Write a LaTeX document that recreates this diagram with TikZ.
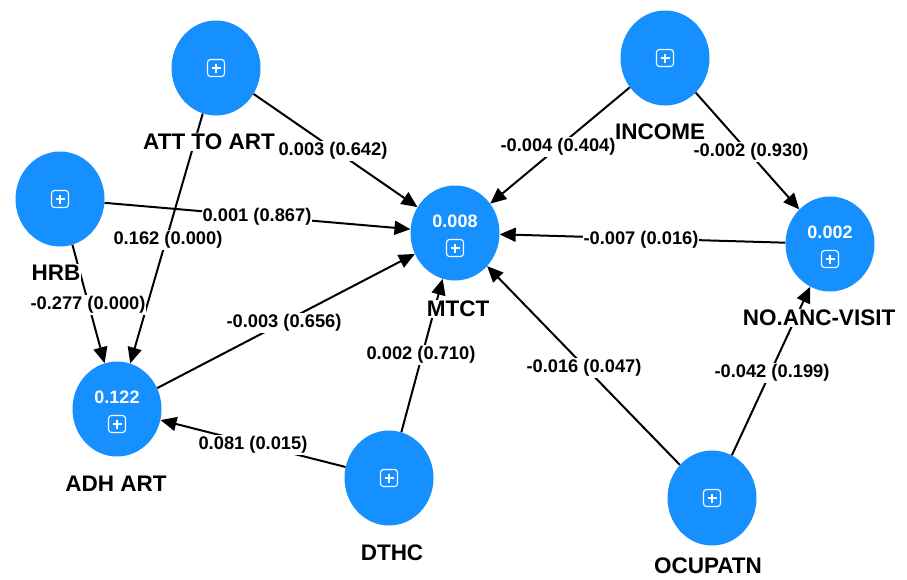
\documentclass[tikz,border=0pt]{standalone}
\usepackage{fontspec}
\setmainfont{Liberation Sans}
\usetikzlibrary{shapes.geometric,arrows.meta}
\definecolor{nodeblue}{RGB}{22,143,255}
\begin{document}
\begin{tikzpicture}[x=1pt,y=-1pt,
  lv/.style={ellipse,fill=nodeblue,minimum width=89pt,minimum height=95pt,inner sep=0pt},
  valtxt/.style={text=white,font=\fontsize{18}{20}\selectfont\bfseries,inner sep=0pt},
  iconbox/.style={draw=white,line width=1.1pt,rounded corners=3pt,minimum size=17pt,inner sep=0pt,
    path picture={\draw[white,line width=1.1pt]
      ([yshift=-4pt]path picture bounding box.north) -- ([yshift=4pt]path picture bounding box.south)
      ([xshift=4pt]path picture bounding box.west) -- ([xshift=-4pt]path picture bounding box.east);}},
  nlab/.style={font=\fontsize{22.5}{24}\selectfont\bfseries,fill=white,inner sep=1pt},
  elab/.style={font=\fontsize{18.3}{20}\selectfont\bfseries,fill=white,inner sep=1pt},
  edge/.style={line width=2pt,-{Triangle[length=16pt,width=14pt]}}]
\useasboundingbox (0,0) rectangle (907,579);
% latent variables
\node[lv] (att) at (216,68) {};
\node[lv] (hrb) at (60,199) {};
\node[lv] (inc) at (665,58) {};
\node[lv] (mtct) at (455,233) {};
\node[lv] (anc) at (830,244) {};
\node[lv] (adh) at (117,409) {};
\node[lv] (dthc) at (389,478) {};
\node[lv] (ocu) at (712,498) {};
% icons and values
\node[iconbox] (iatt) at (att.center) {};
\node[iconbox] (ihrb) at (hrb.center) {};
\node[iconbox] (iinc) at (inc.center) {};
\node[iconbox] (idthc) at (dthc.center) {};
\node[iconbox] (iocu) at (ocu.center) {};
\node[iconbox] (imtct) at ([yshift=-15pt]mtct.center) {};
\node[iconbox] (ianc) at ([yshift=-15pt]anc.center) {};
\node[iconbox] (iadh) at ([yshift=-15pt]adh.center) {};
\node[valtxt] (vmtct) at ([yshift=12pt]mtct.center) {0.008};
\node[valtxt] (vanc) at ([yshift=12pt]anc.center) {0.002};
\node[valtxt] (vadh) at ([yshift=12pt]adh.center) {0.122};
% paths
\draw[edge] (att) -- (mtct);
\draw[edge] (att) -- (adh);
\draw[edge] (hrb) -- (mtct);
\draw[edge] (hrb) -- (adh);
\draw[edge] (inc) -- (mtct);
\draw[edge] (inc) -- (anc);
\draw[edge] (anc) -- (mtct);
\draw[edge] (adh) -- (mtct);
\draw[edge] (dthc) -- (mtct);
\draw[edge] (dthc) -- (adh);
\draw[edge] (ocu) -- (mtct);
\draw[edge] (ocu) -- (anc);
% node labels
\node[nlab] (latt) at (209,142) {ATT TO ART};
\node[nlab] (lhrb) at (56,273) {HRB};
\node[nlab] (linc) at (660,132) {INCOME};
\node[nlab] (lmtct) at (458,309) {MTCT};
\node[nlab] (lanc) at (819,318) {NO.ANC-VISIT};
\node[nlab] (ladh) at (116,484) {ADH ART};
\node[nlab] (ldthc) at (392,553) {DTHC};
\node[nlab,inner sep=0pt] (locu) at (708,566) {OCUPATN};
% path labels
\node[elab] at (333,151) {0.003 (0.642)};
\node[elab] at (257,217) {0.001 (0.867)};
\node[elab] at (168,240) {0.162 (0.000)};
\node[elab] at (88,305) {-0.277 (0.000)};
\node[elab] at (284,323) {-0.003 (0.656)};
\node[elab] at (421,355) {0.002 (0.710)};
\node[elab] at (253,445) {0.081 (0.015)};
\node[elab] at (558,147) {-0.004 (0.404)};
\node[elab] at (751,152) {-0.002 (0.930)};
\node[elab] at (641,240) {-0.007 (0.016)};
\node[elab] at (584,368) {-0.016 (0.047)};
\node[elab] at (772,373) {-0.042 (0.199)};
\end{tikzpicture}
\end{document}
